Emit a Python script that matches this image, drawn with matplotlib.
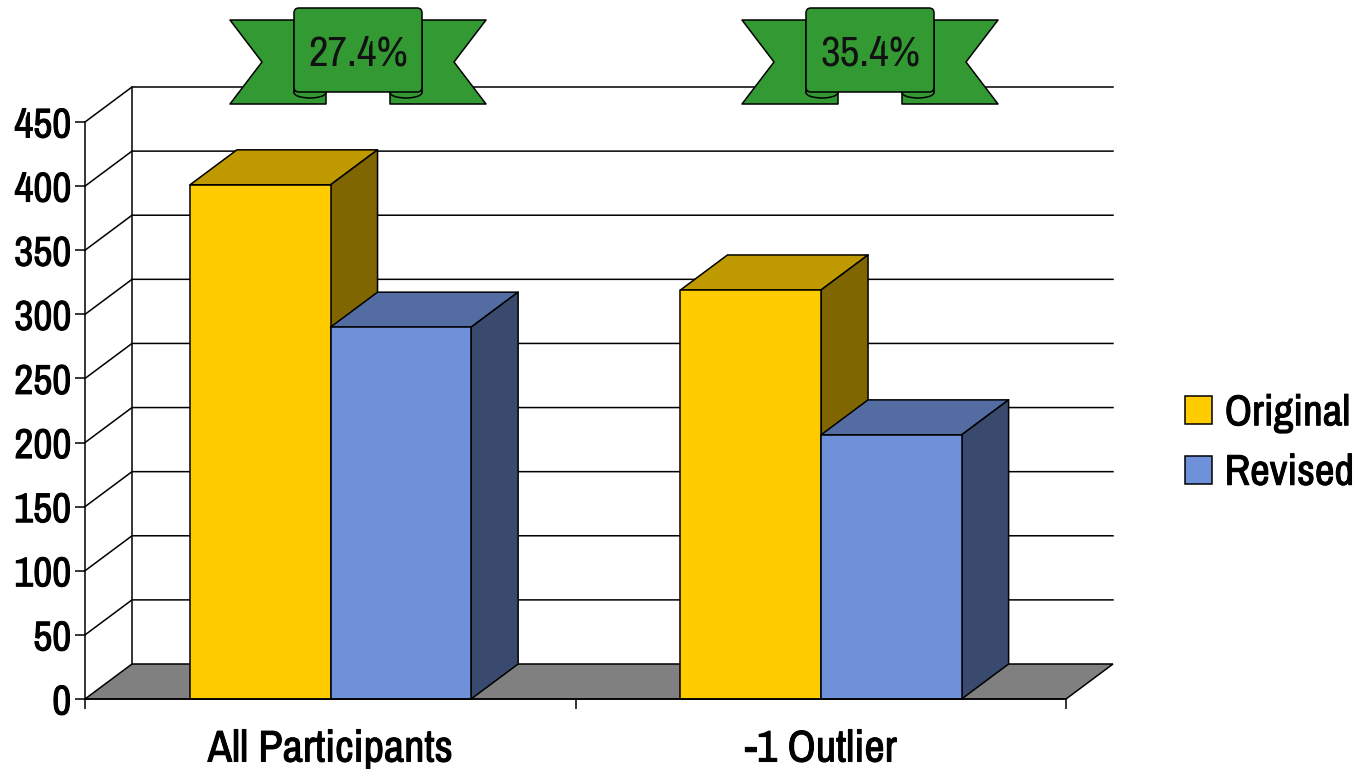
import matplotlib
matplotlib.use('Agg')
import matplotlib.pyplot as plt
import matplotlib.patheffects as pe
from matplotlib.patches import Patch, Polygon, FancyBboxPatch, Ellipse
from matplotlib import font_manager

categories = ['All Participants', '-1 Outlier']
original = [401, 319]
revised = [290, 206]
y_ticks = [0, 50, 100, 150, 200, 250, 300, 350, 400, 450]
banner_labels = ['27.4%', '35.4%']
series_names = ['Original', 'Revised']

W, H = 1366, 769
names = {f.name for f in font_manager.fontManager.ttflist}
FONT = 'Archivo Narrow' if 'Archivo Narrow' in names else 'Liberation Sans'
plt.rcParams['font.family'] = [FONT, 'DejaVu Sans']

LW = 1.1
DX = 47 / 490.5   # depth in category units
DY = 35 / (577 / 450)   # depth in value units
BAR_W = 0.2866
BAR_START = 0.214
FACES = {'Original': ('#FFCC00', '#BF9900', '#806600'),
         'Revised': ('#6F91D9', '#536DA3', '#3A4A6E')}
# no bold cut of the narrow font here, so thicken the labels a little
THICK = [pe.withStroke(linewidth=0.7, foreground='black')]


def bar3d(ax, x, w, h, name):
    front, top, side = FACES[name]
    kw = dict(edgecolor='black', linewidth=LW, clip_on=False, joinstyle='round')
    ax.add_patch(Polygon([(x, h), (x + DX, h + DY), (x + w + DX, h + DY), (x + w, h)],
                         facecolor=top, zorder=3, **kw))
    ax.add_patch(Polygon([(x + w, 0), (x + w + DX, DY), (x + w + DX, h + DY), (x + w, h)],
                         facecolor=side, zorder=3, **kw))
    ax.add_patch(Polygon([(x, 0), (x + w, 0), (x + w, h), (x, h)],
                         facecolor=front, zorder=3, **kw))


def banner(ov, cx, label):
    kw = dict(facecolor='#339933', edgecolor='black', linewidth=LW, joinstyle='round')
    for s in (-1, 1):
        ov.add_patch(Polygon([(cx + s * 64, 20), (cx + s * 128, 20), (cx + s * 96, 62),
                              (cx + s * 128, 104), (cx + s * 32, 104), (cx + s * 32, 92),
                              (cx + s * 64, 92)], zorder=5, **kw))
        ov.add_patch(Ellipse((cx + s * 48, 92.5), 32, 11, zorder=5, **kw))
    ov.add_patch(FancyBboxPatch((cx - 61, 11), 122, 78,
                                boxstyle='round,pad=3,rounding_size=5', zorder=6, **kw))
    ov.text(cx, 53, label, ha='center', va='center', fontsize=31, color='#111111', zorder=7)


fig = plt.figure(figsize=(W / 100, H / 100), dpi=100, facecolor='white')
ax = fig.add_axes([85 / W, 1 - 699 / H, 981 / W, 577 / H])
ax.set_xlim(0, 2)
ax.set_ylim(0, 450)
ax.patch.set_alpha(0)

# walls and floor
ax.add_patch(Polygon([(0, 0), (DX, DY), (2 + DX, DY), (2, 0)], facecolor='#808080',
                     edgecolor='black', linewidth=LW, clip_on=False, zorder=1))
for v in y_ticks[1:]:
    ax.plot([0, DX, 2 + DX], [v, v + DY, v + DY], color='black', lw=LW,
            clip_on=False, zorder=1)
ax.plot([DX, DX], [DY, 450 + DY], color='black', lw=LW, clip_on=False, zorder=1)

for i in range(len(categories)):
    x0 = i + BAR_START
    bar3d(ax, x0, BAR_W, original[i], 'Original')
    bar3d(ax, x0 + BAR_W, BAR_W, revised[i], 'Revised')

ax.spines['top'].set_visible(False)
ax.spines['right'].set_visible(False)
for s in ('left', 'bottom'):
    ax.spines[s].set_linewidth(LW)
    ax.spines[s].set_zorder(4)

ax.set_yticks(y_ticks)
ax.tick_params(axis='y', length=7, width=LW, labelsize=30, pad=3)
ax.set_xticks([0, 1, 2])
ax.set_xticklabels([])
ax.set_xticks([0.5, 1.5], categories, minor=True)
ax.tick_params(axis='x', which='major', length=7, width=LW)
ax.tick_params(axis='x', which='minor', length=0, labelsize=32, pad=22)
for t in ax.get_yticklabels() + ax.get_xticklabels(minor=True):
    t.set_path_effects(THICK)

handles = [Patch(facecolor=FACES[n][0], edgecolor='black', linewidth=LW, label=n)
           for n in series_names]
leg = ax.legend(handles=handles, loc='center left', bbox_to_anchor=(1185 / W, 1 - 443 / H),
                bbox_transform=fig.transFigure, frameon=False, fontsize=31, handlelength=0.63,
                handleheight=0.63, handletextpad=0.29, labelspacing=0.5, borderpad=0,
                borderaxespad=0)
for t in leg.get_texts():
    t.set_path_effects(THICK)

ov = fig.add_axes([0, 0, 1, 1])
ov.set_xlim(0, W)
ov.set_ylim(H, 0)
ov.axis('off')
ov.patch.set_alpha(0)
for cx, label in zip([358, 870], banner_labels):
    banner(ov, cx, label)

fig.savefig('out.png', dpi=100)
